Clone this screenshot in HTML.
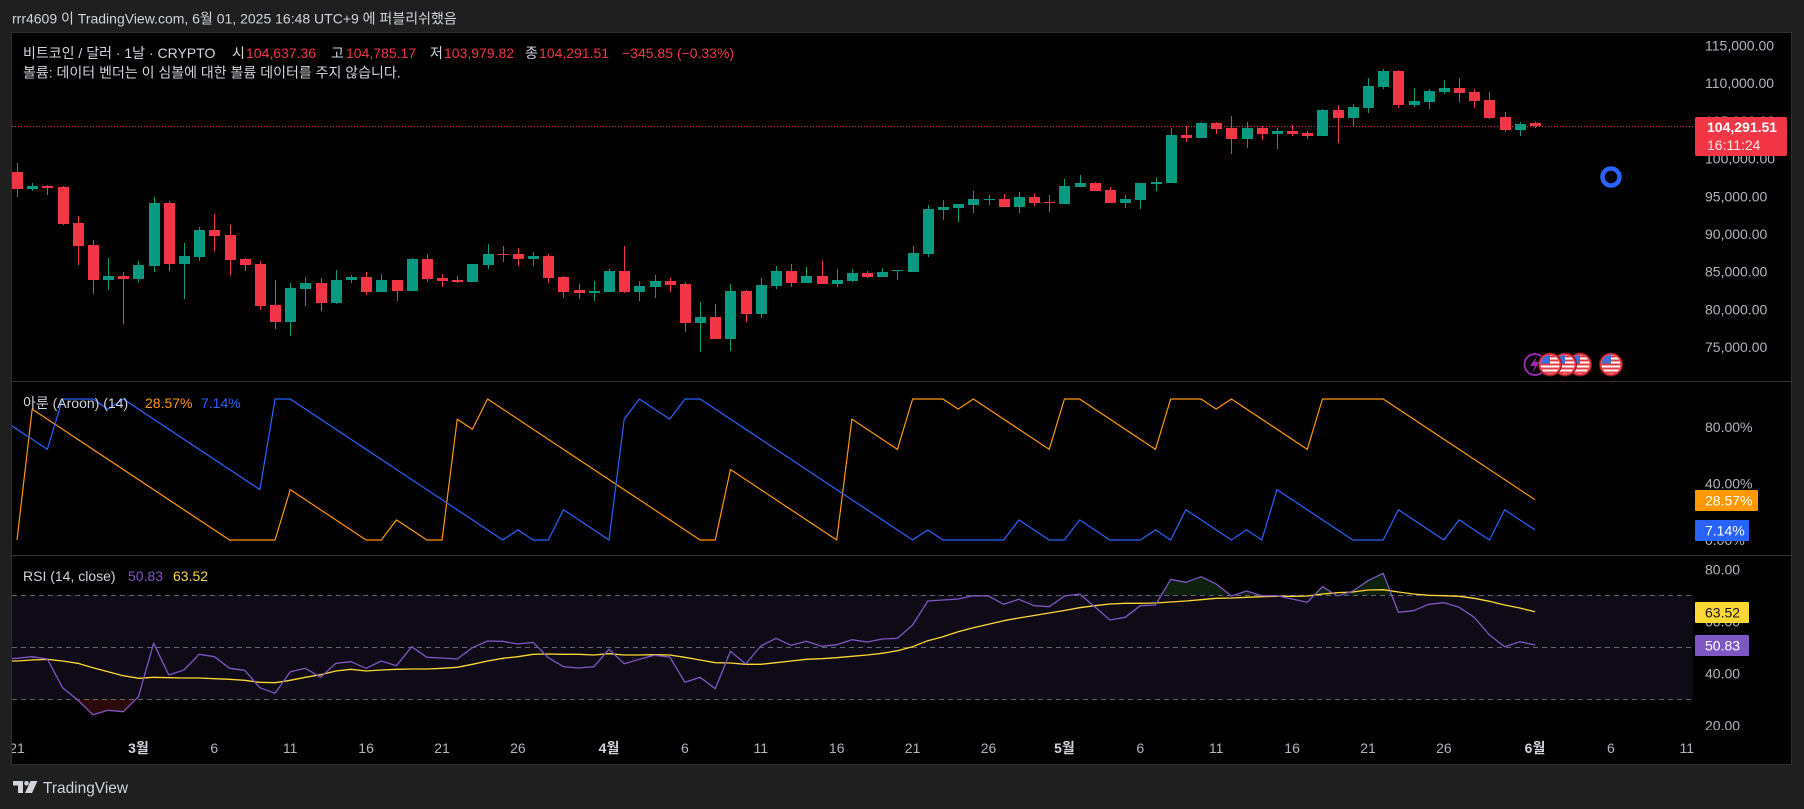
<!DOCTYPE html>
<html><head><meta charset="utf-8"><style>
html,body{margin:0;padding:0;background:#1f1f1f;}
svg{display:block;font-family:"Liberation Sans","Noto Sans CJK KR",sans-serif;}
</style></head><body>
<svg width="1804" height="809" viewBox="0 0 1804 809" xmlns="http://www.w3.org/2000/svg">
<defs>
<clipPath id="cMain"><rect x="12" y="33" width="1683" height="348"/></clipPath>
<clipPath id="cAr"><rect x="12" y="382" width="1683" height="173"/></clipPath>
<clipPath id="cRsi"><rect x="12" y="556" width="1683" height="174"/></clipPath>
<clipPath id="cArAx"><rect x="1695" y="382" width="96" height="173"/></clipPath>
<clipPath id="cRsiAx"><rect x="1695" y="556" width="96" height="174"/></clipPath>
<clipPath id="cX"><rect x="12" y="730" width="1779" height="35"/></clipPath>
<clipPath id="fc"><circle cx="0" cy="0" r="9.5"/></clipPath>
<g id="usflag">
<circle r="12" fill="#7a1820"/>
<circle r="11" fill="#f23645"/>
<g clip-path="url(#fc)">
<rect x="-10" y="-10" width="20" height="20" fill="#ffffff"/>
<rect x="-10" y="-9" width="20" height="2" fill="#e53945"/>
<rect x="-10" y="-5" width="20" height="2" fill="#e53945"/>
<rect x="-10" y="-1" width="20" height="2" fill="#e53945"/>
<rect x="-10" y="3" width="20" height="2" fill="#e53945"/>
<rect x="-10" y="7" width="20" height="2" fill="#e53945"/>
<rect x="-10" y="-10" width="10" height="9" fill="#3b6fd9"/>
</g>
</g>
</defs>

<!-- backgrounds -->
<rect x="0" y="0" width="1804" height="809" fill="#1f1f1f"/>
<rect x="11.5" y="32.5" width="1780" height="732" fill="#000" stroke="#2f2f2f" stroke-width="1"/>

<!-- header -->
<text x="12" y="23.5" font-size="14" fill="#d1d4dc">rrr4609 이 TradingView.com, 6월 01, 2025 16:48 UTC+9 에 퍼블리쉬했음</text>

<!-- pane separators -->
<line x1="12" y1="381.5" x2="1791" y2="381.5" stroke="#333" stroke-width="1"/>
<line x1="12" y1="555.5" x2="1791" y2="555.5" stroke="#333" stroke-width="1"/>

<!-- MAIN PANE -->
<g clip-path="url(#cMain)">
<line x1="12" y1="126.5" x2="1695" y2="126.5" stroke="#f23645" stroke-width="1" stroke-dasharray="1,2"/>
<g fill="#f23645">
<rect x="12" y="172" width="11" height="17"/><rect x="17" y="163" width="1" height="34"/>
<rect x="42" y="186" width="11" height="2"/><rect x="47" y="185" width="1" height="10"/>
<rect x="58" y="187" width="11" height="37"/><rect x="63" y="186" width="1" height="39"/>
<rect x="73" y="223" width="11" height="23"/><rect x="78" y="216" width="1" height="49"/>
<rect x="88" y="245" width="11" height="35"/><rect x="93" y="240" width="1" height="54"/>
<rect x="118" y="276" width="11" height="3"/><rect x="123" y="272" width="1" height="52"/>
<rect x="164" y="203" width="11" height="61"/><rect x="169" y="201" width="1" height="70"/>
<rect x="209" y="230" width="11" height="6"/><rect x="214" y="214" width="1" height="37"/>
<rect x="225" y="235" width="11" height="25"/><rect x="230" y="225" width="1" height="50"/>
<rect x="240" y="259" width="11" height="6"/><rect x="245" y="258" width="1" height="13"/>
<rect x="255" y="264" width="11" height="42"/><rect x="260" y="261" width="1" height="49"/>
<rect x="270" y="305" width="11" height="17"/><rect x="275" y="280" width="1" height="49"/>
<rect x="316" y="283" width="11" height="20"/><rect x="321" y="278" width="1" height="33"/>
<rect x="361" y="277" width="11" height="15"/><rect x="366" y="272" width="1" height="23"/>
<rect x="392" y="280" width="11" height="11"/><rect x="397" y="280" width="1" height="21"/>
<rect x="422" y="259" width="11" height="20"/><rect x="427" y="254" width="1" height="28"/>
<rect x="437" y="278" width="11" height="3"/><rect x="442" y="274" width="1" height="13"/>
<rect x="452" y="280" width="11" height="2"/><rect x="457" y="276" width="1" height="7"/>
<rect x="498" y="254" width="11" height="1"/><rect x="503" y="246" width="1" height="16"/>
<rect x="513" y="254" width="11" height="5"/><rect x="518" y="248" width="1" height="18"/>
<rect x="543" y="256" width="11" height="22"/><rect x="548" y="254" width="1" height="29"/>
<rect x="558" y="277" width="11" height="15"/><rect x="563" y="276" width="1" height="22"/>
<rect x="574" y="290" width="11" height="3"/><rect x="579" y="284" width="1" height="15"/>
<rect x="619" y="271" width="11" height="21"/><rect x="624" y="246" width="1" height="47"/>
<rect x="665" y="281" width="11" height="4"/><rect x="670" y="278" width="1" height="14"/>
<rect x="680" y="284" width="11" height="39"/><rect x="685" y="282" width="1" height="50"/>
<rect x="710" y="317" width="11" height="22"/><rect x="715" y="304" width="1" height="35"/>
<rect x="741" y="291" width="11" height="23"/><rect x="746" y="290" width="1" height="32"/>
<rect x="786" y="271" width="11" height="12"/><rect x="791" y="264" width="1" height="23"/>
<rect x="817" y="276" width="11" height="8"/><rect x="822" y="261" width="1" height="23"/>
<rect x="862" y="273" width="11" height="4"/><rect x="867" y="271" width="1" height="7"/>
<rect x="999" y="199" width="11" height="8"/><rect x="1004" y="194" width="1" height="13"/>
<rect x="1029" y="197" width="11" height="6"/><rect x="1034" y="193" width="1" height="13"/>
<rect x="1044" y="202" width="11" height="1"/><rect x="1049" y="195" width="1" height="17"/>
<rect x="1090" y="183" width="11" height="8"/><rect x="1095" y="182" width="1" height="9"/>
<rect x="1105" y="190" width="11" height="13"/><rect x="1110" y="187" width="1" height="16"/>
<rect x="1181" y="135" width="11" height="3"/><rect x="1186" y="126" width="1" height="16"/>
<rect x="1211" y="123" width="11" height="6"/><rect x="1216" y="122" width="1" height="12"/>
<rect x="1226" y="128" width="11" height="11"/><rect x="1231" y="116" width="1" height="38"/>
<rect x="1257" y="128" width="11" height="6"/><rect x="1262" y="126" width="1" height="14"/>
<rect x="1287" y="131" width="11" height="3"/><rect x="1292" y="125" width="1" height="11"/>
<rect x="1302" y="133" width="11" height="3"/><rect x="1307" y="131" width="1" height="8"/>
<rect x="1333" y="110" width="11" height="8"/><rect x="1338" y="105" width="1" height="38"/>
<rect x="1393" y="71" width="11" height="34"/><rect x="1398" y="70" width="1" height="38"/>
<rect x="1454" y="88" width="11" height="5"/><rect x="1459" y="78" width="1" height="24"/>
<rect x="1469" y="92" width="11" height="9"/><rect x="1474" y="89" width="1" height="19"/>
<rect x="1484" y="100" width="11" height="18"/><rect x="1489" y="92" width="1" height="27"/>
<rect x="1500" y="117" width="11" height="13"/><rect x="1505" y="112" width="1" height="20"/>
<rect x="1530" y="123" width="11" height="3"/><rect x="1535" y="122" width="1" height="6"/>
</g>
<g fill="#089981">
<rect x="27" y="186" width="11" height="3"/><rect x="32" y="183" width="1" height="8"/>
<rect x="103" y="276" width="11" height="4"/><rect x="108" y="258" width="1" height="32"/>
<rect x="133" y="265" width="11" height="14"/><rect x="138" y="261" width="1" height="21"/>
<rect x="149" y="203" width="11" height="63"/><rect x="154" y="197" width="1" height="75"/>
<rect x="179" y="256" width="11" height="8"/><rect x="184" y="243" width="1" height="56"/>
<rect x="194" y="230" width="11" height="27"/><rect x="199" y="227" width="1" height="34"/>
<rect x="285" y="288" width="11" height="34"/><rect x="290" y="283" width="1" height="53"/>
<rect x="300" y="283" width="11" height="6"/><rect x="305" y="277" width="1" height="29"/>
<rect x="331" y="280" width="11" height="23"/><rect x="336" y="270" width="1" height="34"/>
<rect x="346" y="277" width="11" height="3"/><rect x="351" y="275" width="1" height="8"/>
<rect x="376" y="280" width="11" height="12"/><rect x="381" y="274" width="1" height="18"/>
<rect x="407" y="259" width="11" height="32"/><rect x="412" y="258" width="1" height="33"/>
<rect x="467" y="264" width="11" height="18"/><rect x="472" y="264" width="1" height="18"/>
<rect x="483" y="254" width="11" height="11"/><rect x="488" y="244" width="1" height="25"/>
<rect x="528" y="256" width="11" height="3"/><rect x="533" y="252" width="1" height="14"/>
<rect x="589" y="291" width="11" height="2"/><rect x="594" y="281" width="1" height="20"/>
<rect x="604" y="271" width="11" height="21"/><rect x="609" y="269" width="1" height="23"/>
<rect x="634" y="286" width="11" height="6"/><rect x="639" y="281" width="1" height="20"/>
<rect x="650" y="281" width="11" height="6"/><rect x="655" y="275" width="1" height="23"/>
<rect x="695" y="317" width="11" height="6"/><rect x="700" y="302" width="1" height="50"/>
<rect x="725" y="291" width="11" height="48"/><rect x="730" y="284" width="1" height="67"/>
<rect x="756" y="285" width="11" height="29"/><rect x="761" y="278" width="1" height="40"/>
<rect x="771" y="271" width="11" height="15"/><rect x="776" y="266" width="1" height="23"/>
<rect x="801" y="276" width="11" height="7"/><rect x="806" y="267" width="1" height="16"/>
<rect x="832" y="280" width="11" height="4"/><rect x="837" y="269" width="1" height="18"/>
<rect x="847" y="273" width="11" height="8"/><rect x="852" y="269" width="1" height="13"/>
<rect x="877" y="272" width="11" height="5"/><rect x="882" y="268" width="1" height="9"/>
<rect x="892" y="270" width="11" height="1"/><rect x="897" y="270" width="1" height="10"/>
<rect x="908" y="253" width="11" height="19"/><rect x="913" y="246" width="1" height="26"/>
<rect x="923" y="209" width="11" height="45"/><rect x="928" y="205" width="1" height="52"/>
<rect x="938" y="207" width="11" height="3"/><rect x="943" y="200" width="1" height="20"/>
<rect x="953" y="204" width="11" height="4"/><rect x="958" y="204" width="1" height="18"/>
<rect x="968" y="199" width="11" height="6"/><rect x="973" y="191" width="1" height="22"/>
<rect x="984" y="199" width="11" height="1"/><rect x="989" y="195" width="1" height="10"/>
<rect x="1014" y="197" width="11" height="10"/><rect x="1019" y="192" width="1" height="21"/>
<rect x="1059" y="186" width="11" height="18"/><rect x="1064" y="179" width="1" height="25"/>
<rect x="1075" y="183" width="11" height="4"/><rect x="1080" y="175" width="1" height="12"/>
<rect x="1120" y="199" width="11" height="4"/><rect x="1125" y="195" width="1" height="13"/>
<rect x="1135" y="183" width="11" height="17"/><rect x="1140" y="183" width="1" height="26"/>
<rect x="1151" y="182" width="11" height="2"/><rect x="1156" y="177" width="1" height="14"/>
<rect x="1166" y="135" width="11" height="48"/><rect x="1171" y="128" width="1" height="55"/>
<rect x="1196" y="123" width="11" height="15"/><rect x="1201" y="122" width="1" height="16"/>
<rect x="1242" y="128" width="11" height="11"/><rect x="1247" y="122" width="1" height="26"/>
<rect x="1272" y="131" width="11" height="3"/><rect x="1277" y="128" width="1" height="21"/>
<rect x="1317" y="110" width="11" height="26"/><rect x="1322" y="109" width="1" height="27"/>
<rect x="1348" y="107" width="11" height="11"/><rect x="1353" y="104" width="1" height="23"/>
<rect x="1363" y="86" width="11" height="22"/><rect x="1368" y="78" width="1" height="35"/>
<rect x="1378" y="71" width="11" height="16"/><rect x="1383" y="69" width="1" height="20"/>
<rect x="1409" y="101" width="11" height="4"/><rect x="1414" y="88" width="1" height="19"/>
<rect x="1424" y="91" width="11" height="11"/><rect x="1429" y="89" width="1" height="20"/>
<rect x="1439" y="88" width="11" height="4"/><rect x="1444" y="80" width="1" height="14"/>
<rect x="1515" y="124" width="11" height="6"/><rect x="1520" y="122" width="1" height="14"/>
</g>
<!-- blue circle marker -->
<circle cx="1611" cy="177" r="8.5" fill="none" stroke="#2962ff" stroke-width="4.5"/>
<!-- event icons -->
<circle cx="1535" cy="364.5" r="10.5" fill="#000" stroke="#9c27b0" stroke-width="2"/>
<path d="M1537 356 L1530 366 L1535 366 L1532 373 L1540 362 L1535 362 Z" fill="#9c27b0"/>
<use href="#usflag" x="1580" y="364.5"/>
<use href="#usflag" x="1565" y="364.5"/>
<use href="#usflag" x="1550" y="364.5"/>
<use href="#usflag" x="1611" y="364.5"/>
</g>

<!-- main legend -->
<text x="23" y="58" font-size="14" fill="#d1d4dc">비트코인 / 달러 · 1날 · CRYPTO</text>
<text x="232" y="58" font-size="14" fill="#d1d4dc">시</text>
<text x="246" y="58" font-size="14" fill="#f23645">104,637.36</text>
<text x="331" y="58" font-size="14" fill="#d1d4dc">고</text>
<text x="346" y="58" font-size="14" fill="#f23645">104,785.17</text>
<text x="430" y="58" font-size="14" fill="#d1d4dc">저</text>
<text x="444" y="58" font-size="14" fill="#f23645">103,979.82</text>
<text x="525" y="58" font-size="14" fill="#d1d4dc">종</text>
<text x="539" y="58" font-size="14" fill="#f23645">104,291.51</text>
<text x="622" y="58" font-size="14" fill="#f23645">−345.85 (−0.33%)</text>
<text x="23" y="77.5" font-size="14" fill="#d1d4dc">볼륨: 데이터 벤더는 이 심볼에 대한 볼륨 데이터를 주지 않습니다.</text>

<!-- main price axis -->
<g font-size="14" fill="#b2b5be">
<text x="1705" y="50.5">115,000.00</text>
<text x="1705" y="88.2">110,000.00</text>
<text x="1705" y="125.9">105,000.00</text>
<text x="1705" y="163.6">100,000.00</text>
<text x="1705" y="201.3">95,000.00</text>
<text x="1705" y="239">90,000.00</text>
<text x="1705" y="276.7">85,000.00</text>
<text x="1705" y="314.4">80,000.00</text>
<text x="1705" y="352.1">75,000.00</text>
</g>
<rect x="1695" y="117" width="92" height="39" rx="2" fill="#f23645"/>
<text x="1707" y="132" font-size="14" font-weight="bold" fill="#ffffff">104,291.51</text>
<text x="1707" y="150" font-size="14" fill="#fde4e6">16:11:24</text>

<!-- AROON PANE -->
<g clip-path="url(#cAr)" fill="none" stroke-width="1.2" stroke-linejoin="round">
<polyline stroke="#ff9800" points="17,540 32.18,409.07 229.52,540 275.06,540 290.24,489.64 366.14,540 381.32,540 396.5,519.86 426.86,540 442.04,540 457.22,419.14 472.4,429.21 487.58,399 700.1,540 715.28,540 730.46,469.5 836.72,540 851.9,419.14 897.44,449.36 912.62,399 942.98,399 958.16,409.07 973.34,399 1049.24,449.36 1064.42,399 1079.6,399 1155.5,449.36 1170.68,399 1201.04,399 1216.22,409.07 1231.4,399 1307.3,449.36 1322.48,399 1383.2,399 1535,499.71"/>
<polyline stroke="#2962ff" points="1.82,419.14 17,429.21 47.36,449.36 62.54,399 92.9,399 108.08,409.07 123.26,399 259.88,489.64 275.06,399 290.24,399 502.76,540 517.94,529.93 533.12,540 548.3,540 563.48,509.79 609.02,540 624.2,419.14 639.38,399 669.74,419.14 684.92,399 700.1,399 912.62,540 927.8,529.93 942.98,540 1003.7,540 1018.88,519.86 1049.24,540 1064.42,540 1079.6,519.86 1109.96,540 1140.32,540 1155.5,529.93 1170.68,540 1185.86,509.79 1231.4,540 1246.58,529.93 1261.76,540 1276.94,489.64 1352.84,540 1383.2,540 1398.38,509.79 1443.92,540 1459.1,519.86 1489.46,540 1504.64,509.79 1535,529.93"/>
</g>
<text x="23" y="408" font-size="14" fill="#d1d4dc">아룬 (Aroon) (14)</text>
<text x="145" y="408" font-size="14" fill="#ff9800">28.57%</text>
<text x="201" y="408" font-size="14" fill="#2962ff">7.14%</text>
<g clip-path="url(#cArAx)" font-size="14" fill="#b2b5be">
<text x="1705" y="432.2">80.00%</text>
<text x="1705" y="488.6">40.00%</text>
<text x="1705" y="545">0.00%</text>
</g>
<rect x="1695" y="490" width="63" height="21" rx="1" fill="#ff9800"/>
<text x="1705" y="505.5" font-size="14" fill="#ffffff">28.57%</text>
<rect x="1695" y="520" width="54" height="21" rx="1" fill="#2962ff"/>
<text x="1705" y="535.5" font-size="14" fill="#ffffff">7.14%</text>

<!-- RSI PANE -->
<g clip-path="url(#cRsi)">
<rect x="12" y="595" width="1681" height="104.3" fill="#0e0a16"/>
<g stroke="#787b86" stroke-opacity="0.8" stroke-width="1" stroke-dasharray="5,4">
<line x1="12" y1="595.5" x2="1693" y2="595.5"/>
<line x1="12" y1="647.5" x2="1693" y2="647.5"/>
<line x1="12" y1="699.5" x2="1693" y2="699.5"/>
</g>
<g fill="#4caf50" fill-opacity="0.18">
<polygon points="1161.4,595 1170.68,579.3 1185.86,582.3 1201.04,576.7 1216.22,584 1230.1,595"/>
<polygon points="1234.4,595 1246.58,591 1259.5,595"/>
<polygon points="1314.4,595 1322.48,586.7 1336,595"/>
<polygon points="1340.7,595 1352.84,591 1368.02,580.7 1383.2,573.3 1391.6,595"/>
</g>
<polygon fill="#f23645" fill-opacity="0.18" points="76.9,699.3 77.72,700 92.9,714.7 108.08,710.3 123.26,711.7 135.8,699.3"/>
<polyline fill="none" stroke="#fdd835" stroke-width="1.3" stroke-linejoin="round" points="1.82,661 17,661 32.18,660 47.36,659.3 62.54,661 77.72,663.3 92.9,667.7 108.08,671.7 123.26,675.7 138.44,678.3 153.62,677.3 168.8,677.7 183.98,678 199.16,678 214.34,678.7 229.52,679.3 244.7,680.3 259.88,682.3 275.06,682.7 290.24,680.3 305.42,677.3 320.6,674.7 335.78,671 350.96,669.3 366.14,671 381.32,670 396.5,669.3 411.68,669 426.86,669 442.04,668.3 457.22,667.3 472.4,664.3 487.58,661 502.76,658.3 517.94,656.7 533.12,654.3 548.3,654 563.48,654.3 578.66,654.3 593.84,655 609.02,653.7 624.2,655 639.38,655 654.56,654.7 669.74,655 684.92,657.3 700.1,660 715.28,662.7 730.46,663 745.64,664.3 760.82,664.3 776,662.7 791.18,661 806.36,659.3 821.54,658.7 836.72,657.7 851.9,656.3 867.08,655 882.26,653.3 897.44,650.7 912.62,646.7 927.8,640.7 942.98,636.7 958.16,631.7 973.34,627.7 988.52,624.3 1003.7,620.7 1018.88,618 1034.06,615.5 1049.24,613 1064.42,610.5 1079.6,607.7 1094.78,605.7 1109.96,604 1125.14,603.3 1140.32,603.3 1155.5,603 1170.68,602 1185.86,601 1201.04,599.7 1216.22,598.3 1231.4,598 1246.58,597.3 1261.76,596.7 1276.94,596.3 1292.12,596.3 1307.3,596 1322.48,594 1337.66,592.7 1352.84,592 1368.02,590 1383.2,589.7 1398.38,592 1413.56,594 1428.74,595.3 1443.92,595.7 1459.1,596.3 1474.28,598.3 1489.46,601.3 1504.64,605 1519.82,608 1535,611.7"/>
<polyline fill="none" stroke="#7e57c2" stroke-width="1.3" stroke-linejoin="round" points="1.82,659 17,658.3 32.18,656.7 47.36,659 62.54,687.7 77.72,700 92.9,714.7 108.08,710.3 123.26,711.7 138.44,696.7 153.62,643.3 168.8,675 183.98,670 199.16,654.3 214.34,656.7 229.52,668.3 244.7,670.3 259.88,687.7 275.06,693.3 290.24,671.7 305.42,668.3 320.6,677.3 335.78,663.3 350.96,661.7 366.14,668.3 381.32,661 396.5,665.7 411.68,646.7 426.86,657.3 442.04,658 457.22,659 472.4,647.7 487.58,641 502.76,641.3 517.94,644 533.12,642.3 548.3,657.7 563.48,666.7 578.66,668 593.84,666.7 609.02,649.3 624.2,663.7 639.38,659.3 654.56,655.3 669.74,657 684.92,682.3 700.1,677.3 715.28,688.7 730.46,651.3 745.64,664 760.82,646 776,638.3 791.18,645.3 806.36,641.3 821.54,646.3 836.72,644.7 851.9,639.7 867.08,642 882.26,639 897.44,638.3 912.62,625 927.8,601 942.98,600 958.16,599 973.34,595.7 988.52,596 1003.7,604.3 1018.88,599.3 1034.06,605.7 1049.24,606.7 1064.42,596 1079.6,594 1094.78,606.7 1109.96,620 1125.14,617.3 1140.32,605.7 1155.5,605 1170.68,579.3 1185.86,582.3 1201.04,576.7 1216.22,584 1231.4,596 1246.58,591 1261.76,595.7 1276.94,595.7 1292.12,599 1307.3,602.3 1322.48,586.7 1337.66,596 1352.84,591 1368.02,580.7 1383.2,573.3 1398.38,612.3 1413.56,610.7 1428.74,604.3 1443.92,602.7 1459.1,607.3 1474.28,617.3 1489.46,635 1504.64,646.7 1519.82,641.7 1535,645"/>
</g>
<text x="23" y="581" font-size="14" fill="#d1d4dc">RSI (14, close)</text>
<text x="128" y="581" font-size="14" fill="#7e57c2">50.83</text>
<text x="173" y="581" font-size="14" fill="#fdd835">63.52</text>
<g clip-path="url(#cRsiAx)" font-size="14" fill="#b2b5be">
<text x="1705" y="574.3">80.00</text>
<text x="1705" y="626.3">60.00</text>
<text x="1705" y="678.3">40.00</text>
<text x="1705" y="730.3">20.00</text>
</g>
<rect x="1695" y="602" width="54" height="21" rx="1" fill="#fdd835"/>
<text x="1705" y="617.5" font-size="14" fill="#131722">63.52</text>
<rect x="1695" y="635" width="54" height="21" rx="1" fill="#7e57c2"/>
<text x="1705" y="650.5" font-size="14" fill="#ffffff">50.83</text>

<!-- X AXIS -->
<g clip-path="url(#cX)" font-size="14" fill="#b2b5be" text-anchor="middle">
<text x="17" y="753">21</text>
<text x="138.4" y="753" font-weight="bold" fill="#d1d4dc">3월</text>
<text x="214.3" y="753">6</text>
<text x="290.2" y="753">11</text>
<text x="366.1" y="753">16</text>
<text x="442" y="753">21</text>
<text x="517.9" y="753">26</text>
<text x="609" y="753" font-weight="bold" fill="#d1d4dc">4월</text>
<text x="684.9" y="753">6</text>
<text x="760.8" y="753">11</text>
<text x="836.7" y="753">16</text>
<text x="912.6" y="753">21</text>
<text x="988.5" y="753">26</text>
<text x="1064.4" y="753" font-weight="bold" fill="#d1d4dc">5월</text>
<text x="1140.3" y="753">6</text>
<text x="1216.2" y="753">11</text>
<text x="1292.1" y="753">16</text>
<text x="1368" y="753">21</text>
<text x="1443.9" y="753">26</text>
<text x="1535" y="753" font-weight="bold" fill="#d1d4dc">6월</text>
<text x="1610.9" y="753">6</text>
<text x="1686.8" y="753">11</text>
</g>

<!-- TradingView logo -->
<g fill="#d1d4dc">
<rect x="13" y="781" width="10" height="4.5"/>
<rect x="18" y="781" width="5" height="12"/>
<circle cx="26.5" cy="783.3" r="2.3"/>
<polygon points="30.5,781 37.5,781 32,793 25,793"/>
</g>
<text x="43" y="793" font-size="16" fill="#d1d4dc" textLength="85" lengthAdjust="spacingAndGlyphs">TradingView</text>
</svg>
</body></html>
